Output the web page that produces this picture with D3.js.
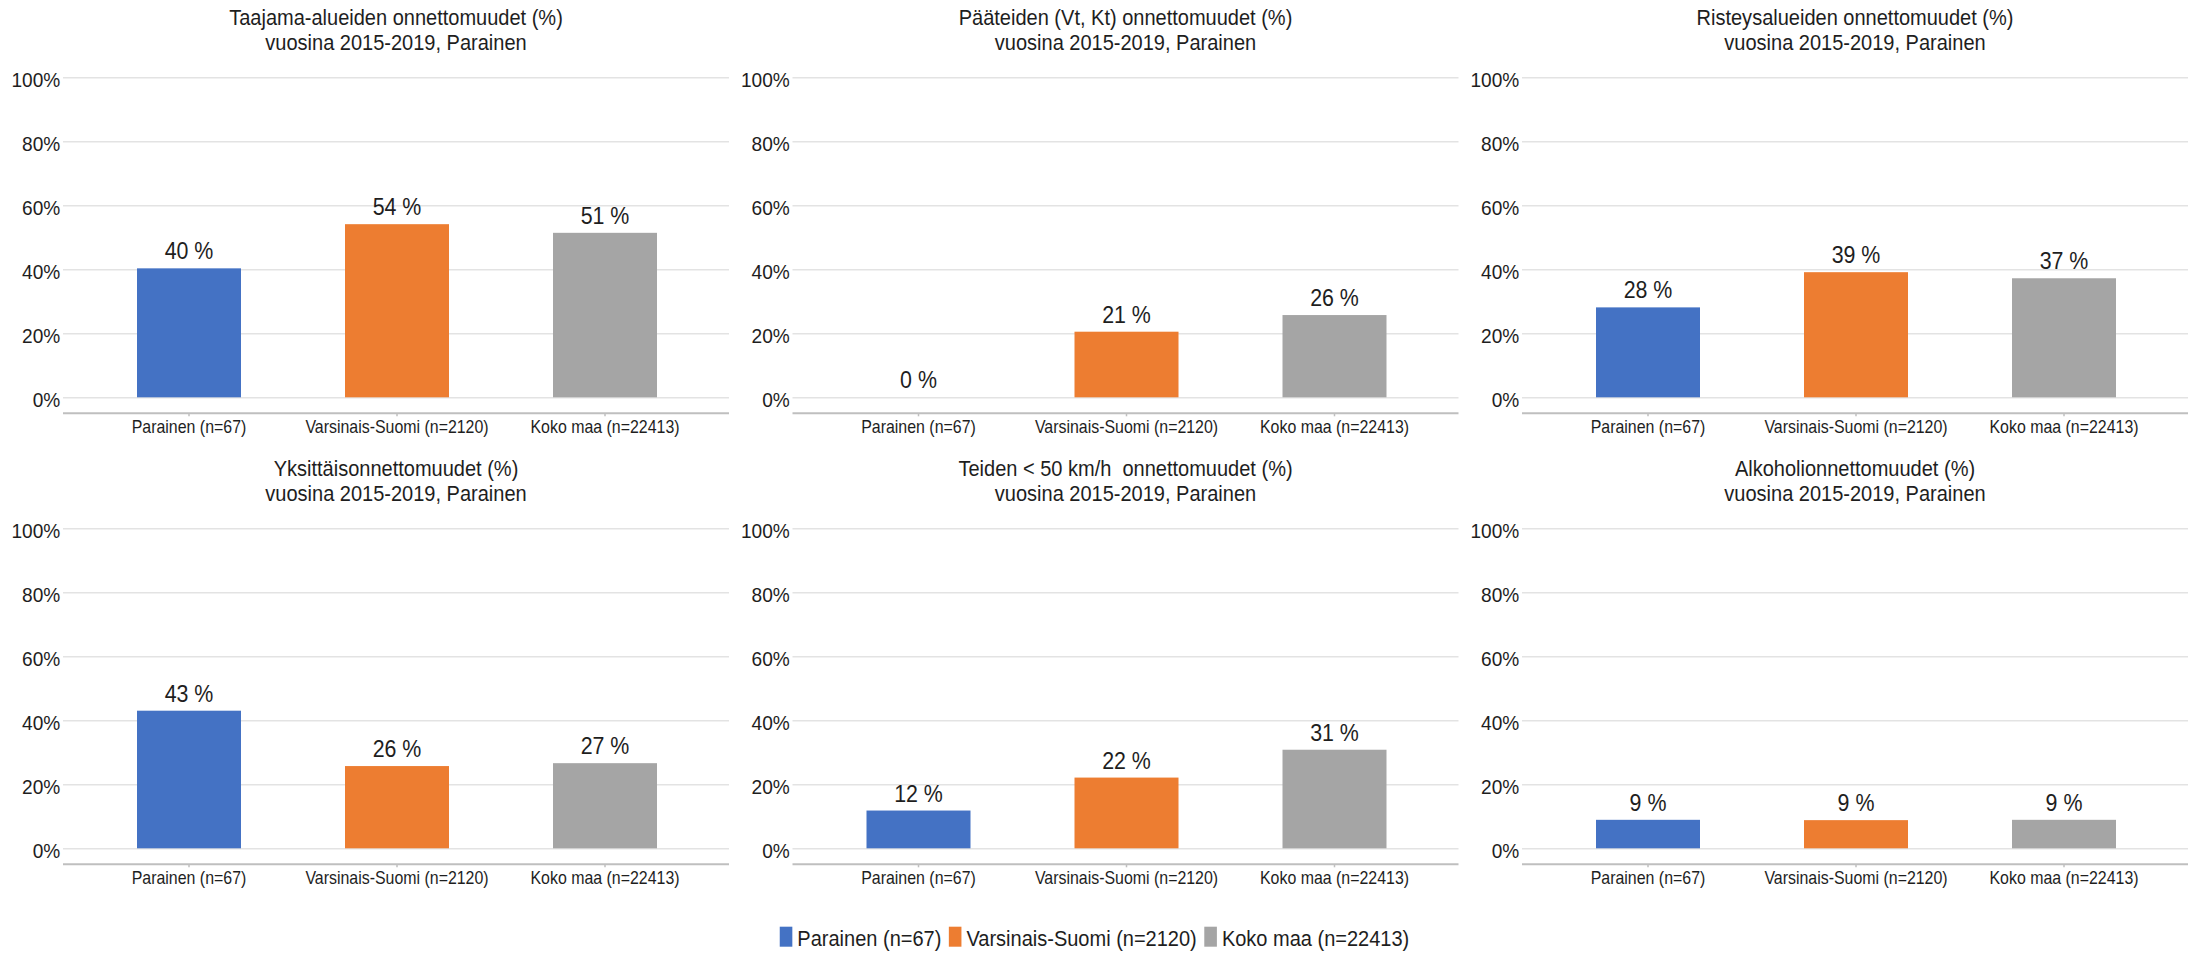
<!DOCTYPE html>
<html><head><meta charset="utf-8">
<script src="https://cdn.jsdelivr.net/npm/d3@7"></script>
<style>
body{margin:0;background:#fff}
svg{display:block}
text{font-family:"Liberation Sans",Arial,sans-serif;fill:#1e1e1e;white-space:pre}
</style>
</head><body>
<svg id="c" width="2189" height="953"></svg>
<script>
// ---- data ----
const categories = ["Parainen (n=67)", "Varsinais-Suomi (n=2120)", "Koko maa (n=22413)"];
const chartTitles = [
  "Taajama-alueiden onnettomuudet (%)",
  "Pääteiden (Vt, Kt) onnettomuudet (%)",
  "Risteysalueiden onnettomuudet (%)",
  "Yksittäisonnettomuudet (%)",
  "Teiden < 50 km/h  onnettomuudet (%)",
  "Alkoholionnettomuudet (%)"
];
const subtitle = "vuosina 2015-2019, Parainen";
const taajamaValues   = [40.3, 54.1, 51.4];
const paateidenValues = [0, 20.5, 25.7];
const risteysValues   = [28.1, 39.1, 37.2];
const yksittaisValues = [43.0, 25.7, 26.6];
const teiden50Values  = [11.8, 22.1, 30.8];
const alkoholiValues  = [8.9, 8.8, 8.9];
const yTickValues = [0, 20, 40, 60, 80, 100];
const seriesColors = ["#4472C4", "#ED7D31", "#A5A5A5"];

const panelValues = [taajamaValues, paateidenValues, risteysValues, yksittaisValues, teiden50Values, alkoholiValues];

// ---- layout ----
const SX = 0.91;
const plotW = 666, plotH = 320;
const colX = [63, 792.5, 1522];
const rowY = [77.3, 528.3];

const svg = d3.select("#c");

const x = d3.scaleBand().domain(categories).range([22, 646]).paddingInner(0.5).paddingOuter(0.25);
const y = d3.scaleLinear().domain([0, 100]).range([plotH, 0]);

panelValues.forEach((vals, i) => {
  const col = i % 3, row = Math.floor(i / 3);
  const g = svg.append("g").attr("transform", `translate(${colX[col]},${rowY[row]})`);

  // gridlines + y labels
  const ya = g.append("g").call(
    d3.axisLeft(y).tickValues(yTickValues).tickSize(-plotW).tickPadding(3).tickFormat(d => d + "%")
  );
  ya.select(".domain").remove();
  ya.selectAll(".tick line").attr("stroke", "#e3e3e3").attr("stroke-width", 1.6);
  ya.selectAll(".tick text")
    .attr("fill", "#1e1e1e")
    .style("font-size", "21px")
    .attr("dy", "0.42em")
    .attr("transform", `scale(${SX},1)`);

  // baseline axis line
  g.append("line")
    .attr("x1", 0).attr("x2", plotW)
    .attr("y1", plotH + 16).attr("y2", plotH + 16)
    .attr("stroke", "#bfbfbf").attr("stroke-width", 2);

  // x axis
  const xa = g.append("g").attr("transform", `translate(0,${plotH + 16})`)
    .call(d3.axisBottom(x).tickSize(3).tickPadding(4));
  xa.select(".domain").remove();
  xa.selectAll(".tick line").attr("stroke", "#bfbfbf").attr("stroke-width", 1.5);
  xa.selectAll(".tick text")
    .attr("fill", "#1e1e1e")
    .style("font-size", "17.5px")
    .attr("transform", `scale(${SX},1)`);

  // bars
  g.selectAll("rect.bar").data(vals).enter().append("rect")
    .attr("class", "bar")
    .attr("x", (d, j) => x(categories[j]))
    .attr("width", x.bandwidth())
    .attr("y", d => y(d))
    .attr("height", d => plotH - y(d))
    .attr("fill", (d, j) => seriesColors[j]);

  // value labels
  g.selectAll("text.val").data(vals).enter().append("text")
    .attr("class", "val")
    .attr("text-anchor", "middle")
    .style("font-size", "23.5px")
    .attr("transform", (d, j) => `translate(${x(categories[j]) + x.bandwidth() / 2},${y(d) - 9}) scale(${SX},1)`)
    .text(d => Math.round(d) + " %");

  // titles
  g.append("text")
    .attr("text-anchor", "middle")
    .style("font-size", "22px")
    .attr("transform", `translate(${plotW / 2},${25 - 77.3}) scale(${SX},1)`)
    .text(chartTitles[i]);
  g.append("text")
    .attr("text-anchor", "middle")
    .style("font-size", "22px")
    .attr("transform", `translate(${plotW / 2},${50 - 77.3}) scale(${SX},1)`)
    .text(subtitle);
});

// ---- legend ----
const leg = svg.append("g");
let cx = 0;
categories.forEach((c, j) => {
  const it = leg.append("g").attr("transform", `translate(${cx},0)`);
  it.append("rect").attr("x", 0).attr("y", 926.7).attr("width", 12.6).attr("height", 20).attr("fill", seriesColors[j]);
  const t = it.append("text")
    .style("font-size", "22px")
    .attr("transform", `translate(17.6,945.7) scale(${SX},1)`)
    .text(c);
  const w = t.node().getComputedTextLength() * SX;
  cx += 17.6 + w + 7.5;
});
const legW = cx - 7.5;
leg.attr("transform", `translate(${2189 / 2 - legW / 2},0)`);
</script>
</body></html>
